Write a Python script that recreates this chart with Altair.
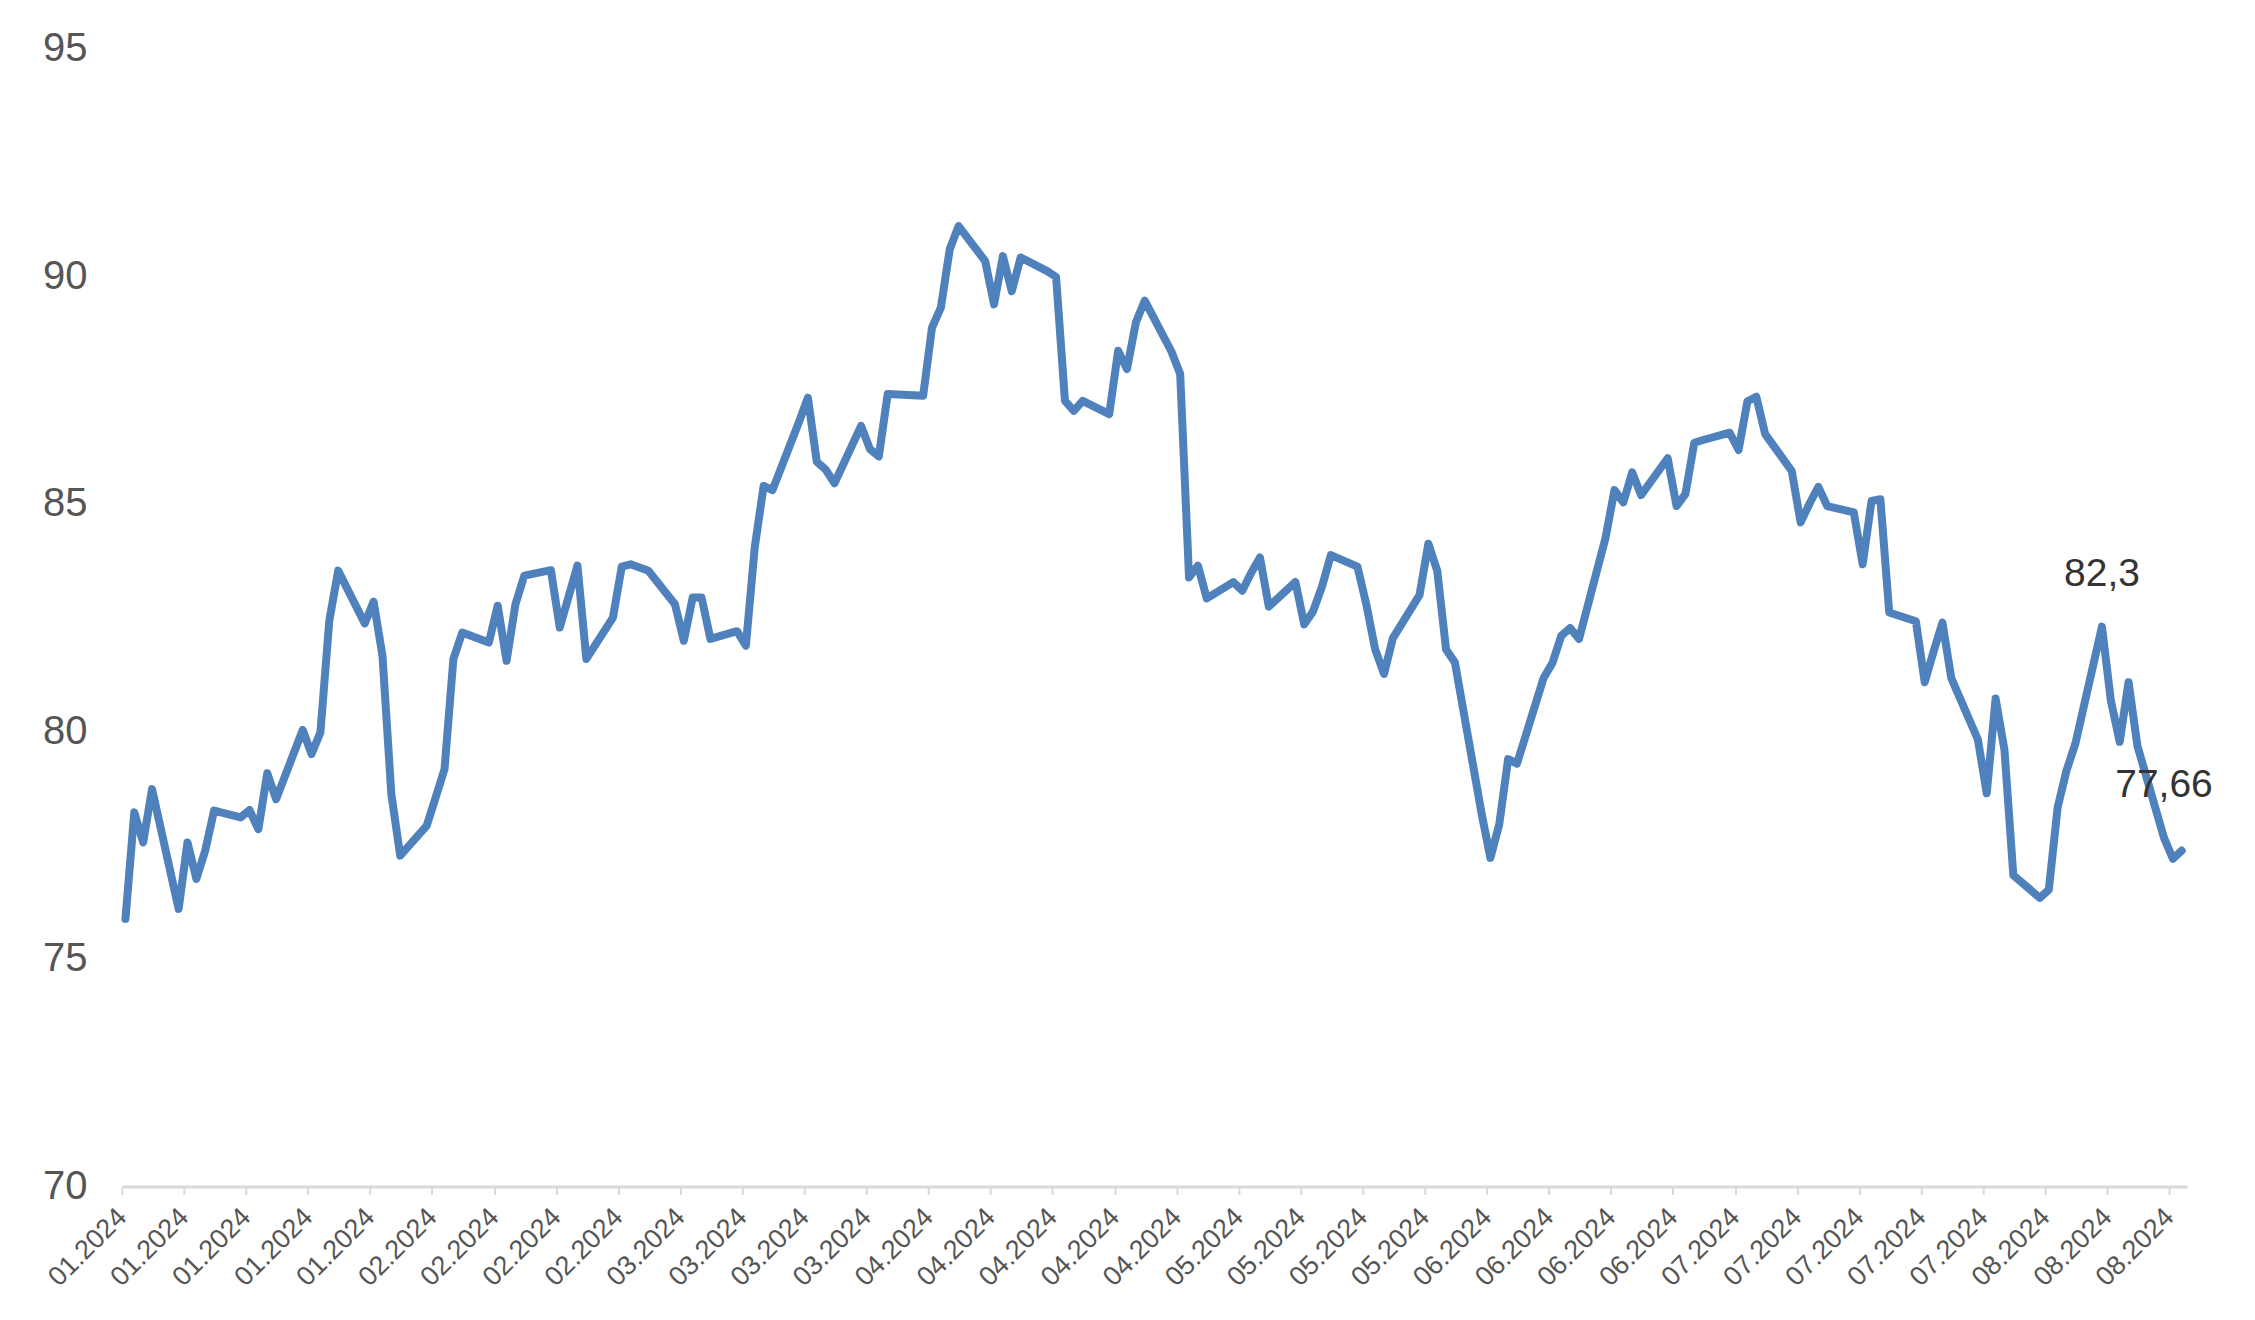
import altair as alt
import pandas as pd

# Trading dates and closing values
dates = [
    "2024-01-02", "2024-01-03", "2024-01-04", "2024-01-05", "2024-01-08", "2024-01-09", "2024-01-10",
    "2024-01-11", "2024-01-12", "2024-01-15", "2024-01-16", "2024-01-17", "2024-01-18", "2024-01-19",
    "2024-01-22", "2024-01-23", "2024-01-24", "2024-01-25", "2024-01-26", "2024-01-29", "2024-01-30",
    "2024-01-31", "2024-02-01", "2024-02-02", "2024-02-05", "2024-02-06", "2024-02-07", "2024-02-08",
    "2024-02-09", "2024-02-12", "2024-02-13", "2024-02-14", "2024-02-15", "2024-02-16", "2024-02-19",
    "2024-02-20", "2024-02-21", "2024-02-22", "2024-02-23", "2024-02-26", "2024-02-27", "2024-02-28",
    "2024-02-29", "2024-03-01", "2024-03-04", "2024-03-05", "2024-03-06", "2024-03-07", "2024-03-08",
    "2024-03-11", "2024-03-12", "2024-03-13", "2024-03-14", "2024-03-15", "2024-03-18", "2024-03-19",
    "2024-03-20", "2024-03-21", "2024-03-22", "2024-03-25", "2024-03-26", "2024-03-27", "2024-03-28",
    "2024-04-01", "2024-04-02", "2024-04-03", "2024-04-04", "2024-04-05", "2024-04-08", "2024-04-09",
    "2024-04-10", "2024-04-11", "2024-04-12", "2024-04-15", "2024-04-16", "2024-04-17", "2024-04-18",
    "2024-04-19", "2024-04-22", "2024-04-23", "2024-04-24", "2024-04-25", "2024-04-26", "2024-04-29",
    "2024-04-30", "2024-05-01", "2024-05-02", "2024-05-03", "2024-05-06", "2024-05-07", "2024-05-08",
    "2024-05-09", "2024-05-10", "2024-05-13", "2024-05-14", "2024-05-15", "2024-05-16", "2024-05-17",
    "2024-05-20", "2024-05-21", "2024-05-22", "2024-05-23", "2024-05-24", "2024-05-27", "2024-05-28",
    "2024-05-29", "2024-05-30", "2024-05-31", "2024-06-03", "2024-06-04", "2024-06-05", "2024-06-06",
    "2024-06-07", "2024-06-10", "2024-06-11", "2024-06-12", "2024-06-13", "2024-06-14", "2024-06-17",
    "2024-06-18", "2024-06-19", "2024-06-20", "2024-06-21", "2024-06-24", "2024-06-25", "2024-06-26",
    "2024-06-27", "2024-06-28", "2024-07-01", "2024-07-02", "2024-07-03", "2024-07-04", "2024-07-05",
    "2024-07-08", "2024-07-09", "2024-07-10", "2024-07-11", "2024-07-12", "2024-07-15", "2024-07-16",
    "2024-07-17", "2024-07-18", "2024-07-19", "2024-07-22", "2024-07-23", "2024-07-24", "2024-07-25",
    "2024-07-26", "2024-07-29", "2024-07-30", "2024-07-31", "2024-08-01", "2024-08-02", "2024-08-05",
    "2024-08-06", "2024-08-07", "2024-08-08", "2024-08-09", "2024-08-12", "2024-08-13", "2024-08-14",
    "2024-08-15", "2024-08-16", "2024-08-19", "2024-08-20", "2024-08-21",
]
values = [
    75.88, 78.22, 77.56, 78.73, 76.10, 77.56, 76.76,
    77.38, 78.26, 78.11, 78.27, 77.85, 79.08, 78.51,
    80.03, 79.50, 79.98, 82.43, 83.53, 82.37, 82.85,
    81.66, 78.62, 77.27, 77.93, 78.55, 79.17, 81.59,
    82.17, 81.95, 82.76, 81.55, 82.79, 83.42, 83.54,
    82.28, 82.96, 83.64, 81.59, 82.50, 83.62, 83.67,
    83.60, 83.53, 82.79, 81.99, 82.94, 82.94, 82.03,
    82.20, 81.88, 84.04, 85.39, 85.30, 86.80, 87.33,
    85.92, 85.75, 85.45, 86.71, 86.20, 86.04, 87.41,
    87.37, 88.87, 89.31, 90.59, 91.10, 90.33, 89.38,
    90.44, 89.67, 90.41, 90.11, 89.98, 87.26, 87.04,
    87.26, 86.97, 88.36, 87.96, 88.98, 89.46, 88.35,
    87.85, 83.38, 83.64, 82.92, 83.28, 83.09, 83.48,
    83.82, 82.74, 83.28, 82.35, 82.64, 83.18, 83.87,
    83.62, 82.79, 81.80, 81.26, 82.05, 82.99, 84.12,
    83.53, 81.80, 81.51, 78.20, 77.22, 77.96, 79.39,
    79.29, 81.17, 81.50, 82.10, 82.27, 82.03, 84.26,
    85.30, 85.03, 85.69, 85.19, 86.00, 84.95, 85.21,
    86.34, 86.40, 86.56, 86.18, 87.25, 87.35, 86.53,
    85.72, 84.59, 85.00, 85.37, 84.95, 84.81, 83.67,
    85.06, 85.10, 82.61, 82.42, 81.08, 81.75, 82.39,
    81.17, 79.82, 78.64, 80.72, 79.59, 76.84, 76.34,
    76.52, 78.33, 79.14, 79.73, 82.30, 80.68, 79.77,
    81.08, 79.68, 77.66, 77.20, 77.38,
]

# Weekly tick labels (Mondays from 01.01.2024)
tick_labels = [
    "01.2024", "01.2024", "01.2024", "01.2024", "01.2024",
    "02.2024", "02.2024", "02.2024", "02.2024",
    "03.2024", "03.2024", "03.2024", "03.2024",
    "04.2024", "04.2024", "04.2024", "04.2024", "04.2024",
    "05.2024", "05.2024", "05.2024", "05.2024",
    "06.2024", "06.2024", "06.2024", "06.2024",
    "07.2024", "07.2024", "07.2024", "07.2024", "07.2024",
    "08.2024", "08.2024", "08.2024",
]

# Annotated points
label_dates = ["2024-08-12", "2024-08-19"]
label_values = [82.3, 77.66]
label_texts = ["82,3", "77,66"]

start = pd.Timestamp("2024-01-01")


def day_offset(ds):
    return [(pd.Timestamp(d) - start).days - 0.6 for d in ds]


df = pd.DataFrame({"day": day_offset(dates), "value": values})
lab = pd.DataFrame({"day": day_offset(label_dates), "value": label_values, "text": label_texts})

tick_vals = [7 * i for i in range(len(tick_labels))]
label_expr = "[" + ",".join("'" + t + "'" for t in tick_labels) + "][round(datum.value / 7)]"

FONT = "Liberation Sans"

x_enc = alt.X(
    "day:Q",
    scale=alt.Scale(domain=[0, 233], nice=False, zero=False),
    axis=alt.Axis(
        values=tick_vals,
        labelExpr=label_expr,
        title=None,
        grid=False,
        labelAngle=-45,
        labelAlign="right",
        labelBaseline="middle",
        labelFontSize=27,
        labelFont=FONT,
        labelColor="#555555",
        labelPadding=18,
        tickSize=8,
        tickWidth=2,
        tickColor="#d9d9d9",
        domainColor="#d9d9d9",
        domainWidth=3,
        labelOverlap=False,
        labelFlush=False,
    ),
)
y_enc = alt.Y(
    "value:Q",
    scale=alt.Scale(domain=[70, 95], nice=False, zero=False),
    axis=alt.Axis(
        values=[70, 75, 80, 85, 90, 95],
        title=None,
        grid=False,
        domain=False,
        ticks=False,
        labelFontSize=40,
        labelFont=FONT,
        labelColor="#555555",
        labelPadding=35,
    ),
)

line = alt.Chart(df).mark_line(
    color="#4f81bd", strokeWidth=8, strokeJoin="round", strokeCap="round"
).encode(x=x_enc, y=y_enc)

texts = alt.Chart(lab).mark_text(
    dy=-41, align="center", baseline="alphabetic", fontSize=39, font=FONT, color="#333333"
).encode(x="day:Q", y="value:Q", text="text:N")

chart = (
    alt.layer(line, texts)
    .properties(
        width=2067,
        height=1139,
        autosize=alt.AutoSizeParams(type="none"),
        padding={"left": 114, "top": 40, "right": 60, "bottom": 120},
        background="white",
    )
    .configure_view(stroke=None)
)

chart.save("out.html", embed_options={"renderer": "svg", "actions": False})
